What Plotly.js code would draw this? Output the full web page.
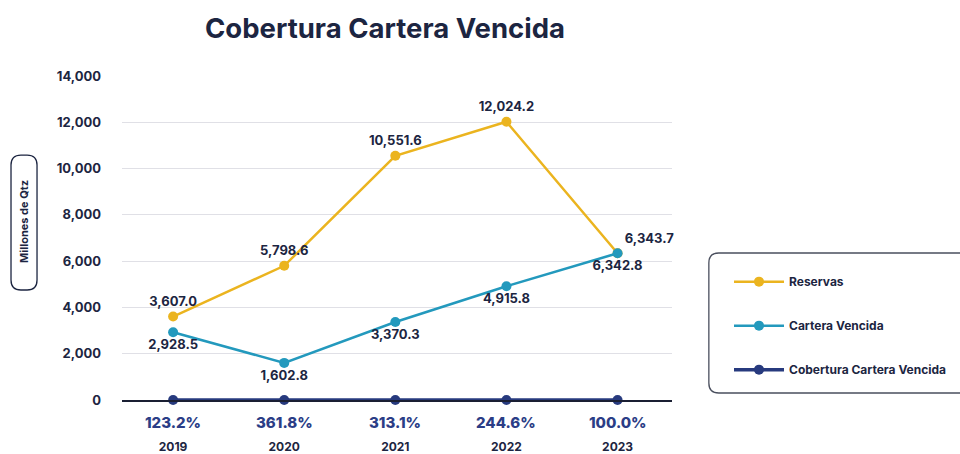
<!DOCTYPE html>
<html>
<head>
<meta charset="utf-8">
<script src="https://cdn.plot.ly/plotly-3.0.1.min.js"></script>
<style>html,body{margin:0;padding:0;background:#fff;}#chart{width:960px;height:454px;}</style>
</head>
<body>
<div id="chart"></div>
<script>
const years = ['2019', '2020', '2021', '2022', '2023'];
const reservas = [3607.0, 5798.6, 10551.6, 12024.2, 6343.7];
const carteraVencida = [2928.5, 1602.8, 3370.3, 4915.8, 6342.8];
const cobertura = [123.2, 361.8, 313.1, 244.6, 100.0];
const yTicks = [0, 2000, 4000, 6000, 8000, 10000, 12000, 14000];

const fmt = v => v.toLocaleString('en-US', {minimumFractionDigits: 1, maximumFractionDigits: 1});
const dark = '#1c2541';
const fam = 'Inter, "Open Sans", sans-serif';
const labelFont = {family: fam, size: 13, color: dark, weight: 700};

// paper-coordinate rounded rectangle helper
function roundRect(x0, y0, x1, y1, rx, ry) {
  return `M ${x0+rx} ${y0} L ${x1-rx} ${y0} Q ${x1} ${y0} ${x1} ${y0+ry} L ${x1} ${y1-ry} Q ${x1} ${y1} ${x1-rx} ${y1} L ${x0+rx} ${y1} Q ${x0} ${y1} ${x0} ${y1-ry} L ${x0} ${y0+ry} Q ${x0} ${y0} ${x0+rx} ${y0} Z`;
}

const traces = [
  {
    x: years, y: reservas, name: 'Reservas', legendgroup: 'a',
    mode: 'lines+markers+text', type: 'scatter',
    line: {color: '#EBB41F', width: 2.5},
    marker: {color: '#EBB41F', size: 10},
    text: reservas.map(fmt),
    textposition: ['top center', 'top center', 'top center', 'top center', 'top right'],
    textfont: labelFont, cliponaxis: false, hoverinfo: 'x+y'
  },
  {
    x: years, y: carteraVencida, name: 'Cartera Vencida', legendgroup: 'b',
    mode: 'lines+markers+text', type: 'scatter',
    line: {color: '#2399BD', width: 2.5},
    marker: {color: '#2399BD', size: 10},
    text: carteraVencida.map(fmt),
    textposition: 'bottom center',
    textfont: labelFont, cliponaxis: false, hoverinfo: 'x+y'
  },
  {
    // the reference draws the coverage ratio along the baseline, with its value written below
    x: years, y: cobertura.map(() => 0), name: 'Cobertura Cartera Vencida', legendgroup: 'c',
    mode: 'lines+markers', type: 'scatter',
    line: {color: '#273A7E', width: 3.5},
    marker: {color: '#273A7E', size: 10},
    customdata: cobertura, hovertemplate: '%{customdata:.1f}%<extra></extra>',
    cliponaxis: false
  }
];

const pctAnnotations = years.map((yr, i) => ({
  x: i, y: 0, xref: 'x', yref: 'paper', yshift: -22, showarrow: false,
  text: cobertura[i].toFixed(1) + '%', xanchor: 'center', yanchor: 'middle',
  font: {family: fam, size: 15, color: '#2B3D86', weight: 800}
}));

const layout = {
  width: 960, height: 454,
  margin: {l: 122, r: 288, t: 76, b: 54, autoexpand: false},
  paper_bgcolor: '#ffffff', plot_bgcolor: '#ffffff',
  font: {family: fam, color: dark},
  title: {
    text: '<b>Cobertura Cartera Vencida</b>',
    font: {size: 27.5, color: dark, family: fam},
    x: 385/960, xanchor: 'center', xref: 'container', y: 1 - 28/454, yanchor: 'middle', yref: 'container'
  },
  xaxis: {
    type: 'category', range: [-0.46, 4.49],
    showgrid: false, zeroline: false,
    showline: true, linecolor: '#1a1f33', linewidth: 2,
    ticks: '', ticklabelstandoff: 35,
    tickfont: {size: 12, color: dark, weight: 700}, fixedrange: true
  },
  yaxis: {
    range: [0, 14000], tickvals: yTicks, tickformat: ',d',
    showgrid: true, gridcolor: '#e0e0e6', gridwidth: 1,
    zeroline: false, showline: false, ticks: '', ticklabelstandoff: 20,
    tickfont: {size: 13, color: dark, weight: 700}, fixedrange: true
  },
  showlegend: true,
  legend: {
    x: (729-122)/550, xanchor: 'left', y: 0.41, yanchor: 'top',
    bgcolor: 'rgba(0,0,0,0)', borderwidth: 0,
    font: {size: 12, color: dark, weight: 700},
    traceorder: 'grouped', tracegroupgap: 25, itemwidth: 50
  },
  shapes: [
    {type: 'path', xref: 'paper', yref: 'paper',
     path: roundRect(-0.2018, 0.3395, -0.1545, 0.756, 0.018, 0.031),
     line: {color: '#1c2541', width: 1.3}, fillcolor: 'rgba(0,0,0,0)'},
    {type: 'path', xref: 'paper', yref: 'paper',
     path: roundRect(1.067, 0.0216, 1.62, 0.4537, 0.018, 0.031),
     line: {color: '#4a4f5e', width: 1.3}, fillcolor: 'rgba(0,0,0,0)'}
  ],
  annotations: [
    {text: '<b>Millones de Qtz</b>', xref: 'paper', yref: 'paper',
     x: (24-122)/550, y: (400-222)/324, textangle: -90, showarrow: false,
     font: {size: 11, color: dark}, xanchor: 'center', yanchor: 'middle'}
  ].concat(pctAnnotations)
};

Plotly.newPlot('chart', traces, layout, {displayModeBar: false, staticPlot: true});
</script>
</body>
</html>
